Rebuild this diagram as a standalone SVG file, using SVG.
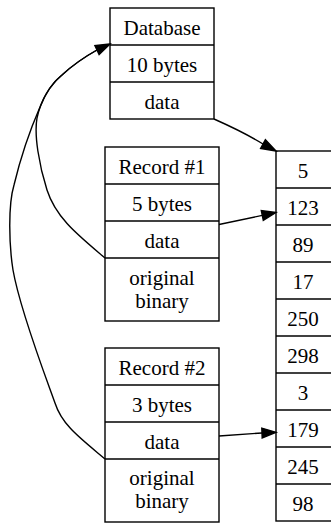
<svg xmlns="http://www.w3.org/2000/svg" width="331" height="523" viewBox="0 0 331 523">
<style>
.box{fill:#fff;stroke:#000;stroke-width:1.4}
.sep{stroke:#000;stroke-width:1.4}
.edge{fill:none;stroke:#000;stroke-width:1.4}
.head{fill:#000;stroke:#000;stroke-width:1.4}
</style>
<rect width="331" height="523" fill="#fff"/>
<g font-family="Liberation Serif, serif" font-size="21" text-anchor="middle" fill="#000">
<g id="database">
<rect class="box" x="110" y="8" width="104" height="111"/>
<line class="sep" x1="110" y1="45" x2="214" y2="45"/>
<line class="sep" x1="110" y1="82" x2="214" y2="82"/>
<text x="162" y="35">Database</text>
<text x="162" y="72">10 bytes</text>
<text x="162" y="109">data</text>
</g>
<g id="record1">
<rect class="box" x="105" y="147" width="114" height="174"/>
<line class="sep" x1="105" y1="184" x2="219" y2="184"/>
<line class="sep" x1="105" y1="221" x2="219" y2="221"/>
<line class="sep" x1="105" y1="258" x2="219" y2="258"/>
<text x="162" y="174">Record #1</text>
<text x="162" y="211">5 bytes</text>
<text x="162" y="248">data</text>
<text x="162" y="285">original</text>
<text x="162" y="308">binary</text>
</g>
<g id="record2">
<rect class="box" x="105" y="348" width="114" height="174"/>
<line class="sep" x1="105" y1="385" x2="219" y2="385"/>
<line class="sep" x1="105" y1="422" x2="219" y2="422"/>
<line class="sep" x1="105" y1="459" x2="219" y2="459"/>
<text x="162" y="375">Record #2</text>
<text x="162" y="412">3 bytes</text>
<text x="162" y="449">data</text>
<text x="162" y="485">original</text>
<text x="162" y="508">binary</text>
</g>
<g id="array">
<rect class="box" x="276" y="151" width="62" height="370"/>
<line class="sep" x1="276" y1="188" x2="338" y2="188"/>
<line class="sep" x1="276" y1="225" x2="338" y2="225"/>
<line class="sep" x1="276" y1="262" x2="338" y2="262"/>
<line class="sep" x1="276" y1="299" x2="338" y2="299"/>
<line class="sep" x1="276" y1="336" x2="338" y2="336"/>
<line class="sep" x1="276" y1="373" x2="338" y2="373"/>
<line class="sep" x1="276" y1="410" x2="338" y2="410"/>
<line class="sep" x1="276" y1="447" x2="338" y2="447"/>
<line class="sep" x1="276" y1="484" x2="338" y2="484"/>
<text x="303" y="177.5">5</text>
<text x="303" y="214.5">123</text>
<text x="303" y="251.5">89</text>
<text x="303" y="288.5">17</text>
<text x="303" y="325.5">250</text>
<text x="303" y="362.5">298</text>
<text x="303" y="399.5">3</text>
<text x="303" y="436.5">179</text>
<text x="303" y="473.5">245</text>
<text x="303" y="510.5">98</text>
</g>
</g>
<g id="edges">
<path class="edge" d="M214,119 C232,127 250,136 263,144"/>
<polygon class="head" points="276,151 260.6,148.4 265.4,139.6"/>
<path class="edge" d="M219,224.5 L262.3,215.4"/>
<polygon class="head" points="276,212.5 263.3,220.3 261.3,210.5"/>
<path class="edge" d="M219,436 L262,433"/>
<polygon class="head" points="276,432.3 262.2,437.9 261.8,428.1"/>
<path class="edge" d="M105,258 C78,235 56,218 47,190 C39,165 34,135 37,118 C41,100 50,85 62,75 C75,63 88,55 97,50"/>
<path class="edge" d="M105,459 C80,438 62,425 55,403 C45,375 20,310 13,270 C9,245 8,205 14,185 C20,160 30,130 40,107 C46,92 52,83 62,75 C75,63 88,55 97,50"/>
<polygon class="head" points="110,44 99.1,54.5 94.9,45.5"/>
</g>
</svg>
